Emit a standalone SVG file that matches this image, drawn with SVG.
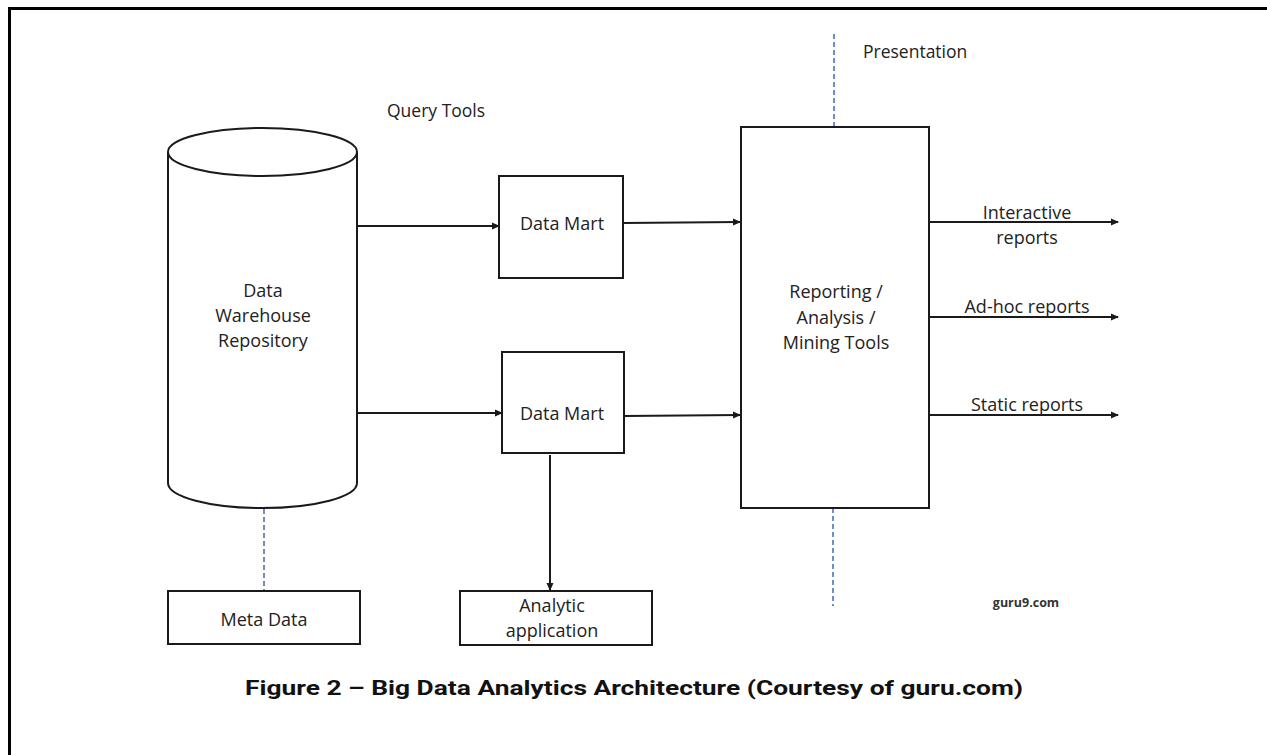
<svg xmlns="http://www.w3.org/2000/svg" width="1267" height="755" viewBox="0 0 1267 755">
<style>
.box{fill:#fff;stroke:#1a1a1a;stroke-width:2}
.t{font-family:"Open Sans","Liberation Sans",sans-serif;font-size:18px;fill:#222;text-anchor:middle}
.tl{font-family:"Open Sans","Liberation Sans",sans-serif;font-size:17.5px;fill:#222}
.c{stroke:#1a1a1a;stroke-width:2;fill:none;marker-end:url(#ah)}
.d{stroke:#4a72c0;stroke-width:1.6;stroke-dasharray:5,3;fill:none}
</style>
<defs>
<marker id="ah" markerWidth="8" markerHeight="8" refX="7" refY="4" orient="auto" markerUnits="userSpaceOnUse">
<path d="M0,0.5 L8,4 L0,7.5 Z" fill="#1a1a1a"/>
</marker>
</defs>
<rect width="1267" height="755" fill="#fff"/>
<path d="M9.5,755 L9.5,8.5 L1267,8.5" fill="none" stroke="#000" stroke-width="3"/>

<g id="connectors">
<line class="c" x1="357" y1="226" x2="499" y2="226"/>
<line class="c" x1="358" y1="413" x2="502" y2="413"/>
<line class="c" x1="623" y1="223" x2="740" y2="222"/>
<line class="c" x1="624" y1="416" x2="740" y2="415"/>
<line class="c" x1="550" y1="455" x2="550" y2="590"/>
<line class="c" x1="929" y1="222" x2="1118" y2="222"/>
<line class="c" x1="929" y1="317" x2="1118" y2="317"/>
<line class="c" x1="929" y1="415" x2="1118" y2="415"/>
<line class="d" x1="264" y1="453" x2="264" y2="591"/>
<line class="d" x1="834" y1="34" x2="834" y2="127"/>
<line class="d" x1="833" y1="508" x2="833" y2="606"/>
</g>

<g id="warehouse">
<path class="box" d="M168,152 L168,483 A94.5,25 0 0 0 357,483 L357,152"/>
<ellipse class="box" cx="262.5" cy="152" rx="94.5" ry="24"/>
<text class="t" x="263" y="297">Data</text>
<text class="t" x="263" y="322">Warehouse</text>
<text class="t" x="263" y="347">Repository</text>
</g>

<g id="datamart1">
<rect class="box" x="499" y="176" width="124" height="102"/>
<text class="t" x="562" y="230">Data Mart</text>
</g>

<g id="datamart2">
<rect class="box" x="502" y="352" width="122" height="101"/>
<text class="t" x="562" y="420">Data Mart</text>
</g>

<g id="reporting">
<rect class="box" x="741" y="127" width="188" height="381"/>
<text class="t" x="836" y="298">Reporting /</text>
<text class="t" x="836" y="324">Analysis /</text>
<text class="t" x="836" y="349">Mining Tools</text>
</g>

<g id="metadata">
<rect class="box" x="168" y="591" width="192" height="53"/>
<text class="t" x="264" y="626">Meta Data</text>
</g>

<g id="analytic">
<rect class="box" x="460" y="591" width="192" height="54"/>
<text class="t" x="552" y="612">Analytic</text>
<text class="t" x="552" y="637">application</text>
</g>

<g id="labels">
<text class="tl" x="387" y="117">Query Tools</text>
<text class="tl" x="863" y="58">Presentation</text>
<text class="t" x="1027" y="219">Interactive</text>
<text class="t" x="1027" y="244">reports</text>
<text class="t" x="1027" y="313">Ad-hoc reports</text>
<text class="t" x="1027" y="411">Static reports</text>
<text x="1026" y="607" font-family="'Open Sans','Liberation Sans',sans-serif" font-size="12.5" font-weight="bold" fill="#333" text-anchor="middle">guru9.com</text>
<text x="634" y="695" font-family="Roboto,'Liberation Sans',sans-serif" font-size="20" font-weight="bold" fill="#111" text-anchor="middle" textLength="778" lengthAdjust="spacingAndGlyphs">Figure 2 – Big Data Analytics Architecture (Courtesy of guru.com)</text>
</g>
</svg>
